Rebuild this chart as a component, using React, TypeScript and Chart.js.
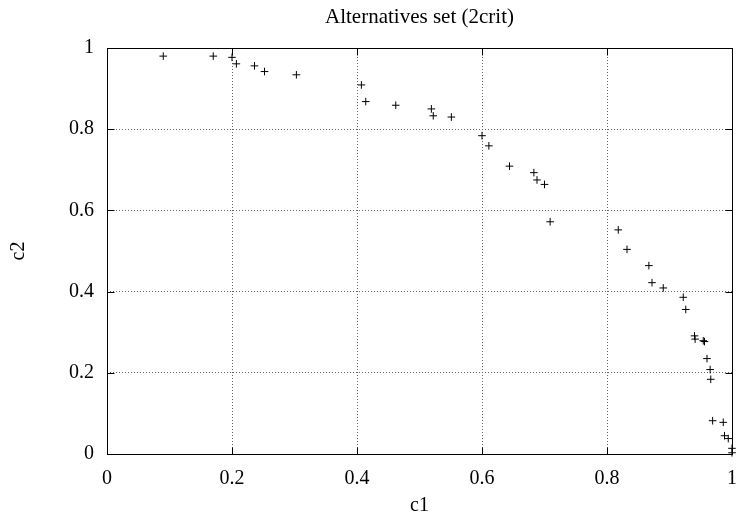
import React, { useEffect, useRef } from "react";
import { Chart, registerables } from "chart.js";

Chart.register(...registerables);

const chartTitle = "Alternatives set (2crit)";
const xAxisLabel = "c1";
const yAxisLabel = "c2";
const tickValues = [0, 0.2, 0.4, 0.6, 0.8, 1];

const c1Values = [
  0.090, 0.170, 0.200, 0.207, 0.236, 0.252, 0.303, 0.407, 0.414, 0.462,
  0.519, 0.522, 0.551, 0.600, 0.611, 0.644, 0.683, 0.688, 0.700, 0.709,
  0.818, 0.832, 0.867, 0.872, 0.890, 0.922, 0.926, 0.940, 0.941, 0.954,
  0.956, 0.960, 0.965, 0.966, 0.969, 0.986, 0.988, 0.994, 1.000, 1.000,
];
const c2Values = [
  0.980, 0.980, 0.977, 0.961, 0.956, 0.942, 0.934, 0.909, 0.868, 0.859,
  0.850, 0.833, 0.830, 0.784, 0.759, 0.709, 0.693, 0.675, 0.664, 0.572,
  0.552, 0.504, 0.464, 0.422, 0.409, 0.386, 0.356, 0.291, 0.283, 0.279,
  0.277, 0.235, 0.208, 0.184, 0.082, 0.078, 0.045, 0.038, 0.014, 0.003,
];

const FONT = "'Liberation Serif', 'Times New Roman', serif";

const framePlugin = {
  id: "gnuplotFrame",
  afterDraw(chart: any) {
    const { ctx, chartArea } = chart;
    const { left, right, top, bottom } = chartArea;
    const xs = chart.scales.x;
    const ys = chart.scales.y;
    ctx.save();
    ctx.strokeStyle = "#000";
    ctx.lineWidth = 1;
    ctx.setLineDash([]);
    const L = Math.round(left) + 0.5;
    const R = Math.round(right) + 0.5;
    const T = Math.round(top) + 0.5;
    const B = Math.round(bottom) + 0.5;
    ctx.strokeRect(L, T, R - L, B - T);
    const tl = 7;
    ctx.beginPath();
    tickValues.forEach((v) => {
      const px = Math.round(xs.getPixelForValue(v)) + 0.5;
      ctx.moveTo(px, B);
      ctx.lineTo(px, B - tl);
      ctx.moveTo(px, T);
      ctx.lineTo(px, T + tl);
      const py = Math.round(ys.getPixelForValue(v)) + 0.5;
      ctx.moveTo(L, py);
      ctx.lineTo(L + tl, py);
      ctx.moveTo(R, py);
      ctx.lineTo(R - tl, py);
    });
    ctx.stroke();

    ctx.fillStyle = "#000";
    ctx.textAlign = "center";
    ctx.textBaseline = "middle";
    const cx = (left + right) / 2;
    ctx.font = `21px ${FONT}`;
    ctx.fillText(chartTitle, cx, 17);
    ctx.font = `20px ${FONT}`;
    ctx.fillText(xAxisLabel, cx, 506);
    ctx.translate(19, 251);
    ctx.rotate(-Math.PI / 2);
    ctx.fillText(yAxisLabel, 0, 0);
    ctx.restore();
  },
};

export default function App() {
  const ref = useRef<HTMLCanvasElement | null>(null);
  useEffect(() => {
    if (!ref.current) return;
    const points = c1Values.map((x, i) => ({ x, y: c2Values[i] }));
    const tickFmt = (v: any) => String(Number(Number(v).toFixed(1)));
    const chart = new Chart(ref.current, {
      type: "scatter",
      data: {
        datasets: [
          {
            data: points,
            pointStyle: "cross",
            pointRadius: 3.8,
            pointHoverRadius: 3.8,
            borderColor: "#000",
            backgroundColor: "#000",
            borderWidth: 1,
            clip: false,
          },
        ],
      },
      plugins: [framePlugin],
      options: {
        animation: false,
        responsive: false,
        events: [],
        layout: { padding: { left: 0, right: 6, top: 48, bottom: 0 } },
        plugins: {
          legend: { display: false },
          title: { display: false },
          tooltip: { enabled: false },
        },
        scales: {
          x: {
            type: "linear",
            min: 0,
            max: 1,
            afterFit: (s: any) => {
              s.height = 69;
              s.paddingLeft = 0;
              s.paddingRight = 0;
            },
            afterBuildTicks: (s: any) => {
              s.ticks = tickValues.map((v) => ({ value: v }));
            },
            border: { display: false, dash: [1, 2] },
            grid: { color: "#666", lineWidth: 1, drawTicks: false },
            ticks: {
              padding: 13,
              color: "#000",
              font: { family: FONT, size: 20 },
              callback: tickFmt,
              maxRotation: 0,
            },
          },
          y: {
            type: "linear",
            min: 0,
            max: 1,
            afterFit: (s: any) => {
              s.width = 107;
              s.paddingTop = 0;
              s.paddingBottom = 0;
            },
            afterBuildTicks: (s: any) => {
              s.ticks = tickValues.map((v) => ({ value: v }));
            },
            border: { display: false, dash: [1, 2] },
            grid: { color: "#666", lineWidth: 1, drawTicks: false },
            ticks: {
              padding: 13,
              color: "#000",
              font: { family: FONT, size: 20 },
              callback: tickFmt,
            },
          },
        },
      },
    } as any);
    return () => chart.destroy();
  }, []);
  return (
    <div style={{ position: "fixed", left: 0, top: 0, width: 738, height: 523, background: "#fff" }}>
      <canvas ref={ref} width={738} height={523} style={{ width: 738, height: 523 }} />
    </div>
  );
}
